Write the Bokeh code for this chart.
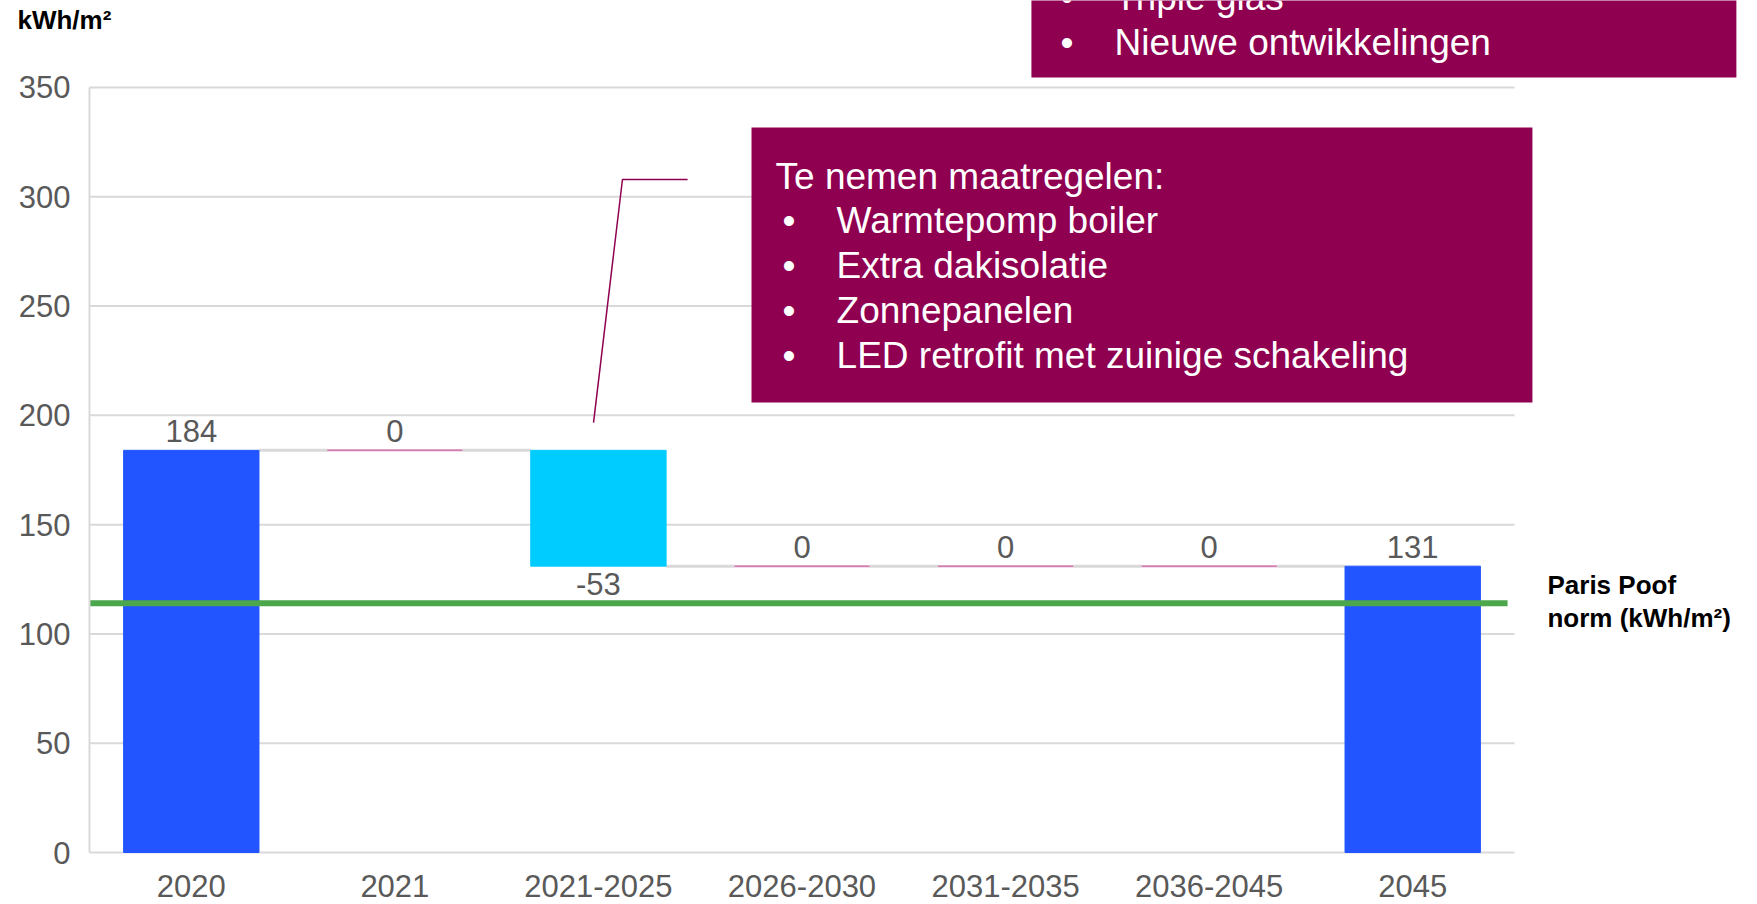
from bokeh.plotting import figure
from bokeh.models import Range1d, FixedTicker, Label
from bokeh.core.properties import value
from bokeh.embed import file_html
from bokeh.resources import INLINE

# ---------------- data ----------------
categories = ["2020", "2021", "2021-2025", "2026-2030", "2031-2035", "2036-2045", "2045"]
step_values = [184, 0, -53, 0, 0, 0, None]          # None -> computed total
is_total = [True, False, False, False, False, False, True]
norm_value = 114
y_ticks = [0, 50, 100, 150, 200, 250, 300, 350]
unit_label = "kWh/m²"
norm_label = ["Paris Poof", "norm (kWh/m²)"]
measures_title = "Te nemen maatregelen:"
measures = ["Warmtepomp boiler", "Extra dakisolatie", "Zonnepanelen",
            "LED retrofit met zuinige schakeling"]
other_measures = ["Triple glas", "Nieuwe ontwikkelingen"]

# ---------------- styling / layout ----------------
FONT = "Liberation Sans"
GRAY_TXT = "#595959"
GRID = "#d9d9d9"
TOTAL_C = "#2255FF"
NEG_C = "#00CCFF"
ZERO_C = "#D07FAE"
PLUM = "#8F0050"
GREEN = "#4CA64C"
BAR_W = 0.665

n = len(categories)
xs = list(range(n))

# waterfall computation
bottoms, tops, shown, levels = [], [], [], []
running = 0
for v, tot in zip(step_values, is_total):
    if tot:
        val = v if v is not None else running
        running = val
        bottoms.append(0); tops.append(val); shown.append(val)
    else:
        start = running
        running = start + v
        bottoms.append(min(start, running)); tops.append(max(start, running)); shown.append(v)
    levels.append(running)

# frame spans the whole canvas; axes are pinned at fixed locations
p = figure(width=1757, height=904,
           x_range=Range1d(-0.9372, 7.6937),
           y_range=Range1d(-23.79, 389.8),
           output_backend="svg", toolbar_location=None, min_border=0)
p.outline_line_color = None
p.background_fill_color = "white"
p.border_fill_color = "white"

x_lo, x_hi = -0.5, n - 0.5
p.xgrid.grid_line_color = None
p.ygrid.grid_line_color = None

p.yaxis.ticker = FixedTicker(ticks=y_ticks)
p.yaxis.fixed_location = x_lo
p.yaxis.bounds = (y_ticks[0], y_ticks[-1])
p.xaxis.ticker = FixedTicker(ticks=xs)
p.xaxis.major_label_overrides = {i: c for i, c in zip(xs, categories)}
p.xaxis.fixed_location = 0
p.xaxis.bounds = (x_lo, x_hi)
for ax in (p.xaxis[0], p.yaxis[0]):
    ax.axis_line_color = GRID
    ax.axis_line_width = 2
    ax.major_tick_line_color = None
    ax.minor_tick_line_color = None
    ax.major_tick_out = 0
    ax.major_tick_in = 0
    ax.minor_tick_out = 0
    ax.major_label_text_font = FONT
    ax.major_label_text_font_size = "31px"
    ax.major_label_text_color = GRAY_TXT
p.xaxis.axis_line_color = None
p.yaxis.major_label_standoff = 19
p.xaxis.major_label_standoff = 22

# horizontal gridlines limited to the plot area
p.segment(x0=[x_lo] * len(y_ticks), y0=y_ticks, x1=[x_hi] * len(y_ticks), y1=y_ticks,
          line_color=GRID, line_width=2)

# connectors between consecutive categories
con_x0 = [i + BAR_W / 2 for i in range(n - 1)]
con_x1 = [i + 1 - BAR_W / 2 for i in range(n - 1)]
con_y = [levels[i] for i in range(n - 1)]
p.segment(x0=con_x0, y0=con_y, x1=con_x1, y1=con_y, line_color=GRID, line_width=3)

# bars (non-zero)
bar_idx = [i for i in xs if tops[i] != bottoms[i]]
p.vbar(x=bar_idx, bottom=[bottoms[i] for i in bar_idx], top=[tops[i] for i in bar_idx],
       width=BAR_W, color=[TOTAL_C if is_total[i] else NEG_C for i in bar_idx])

# zero-change markers
zero_idx = [i for i in xs if tops[i] == bottoms[i]]
p.segment(x0=[i - BAR_W / 2 for i in zero_idx], y0=[levels[i] for i in zero_idx],
          x1=[i + BAR_W / 2 for i in zero_idx], y1=[levels[i] for i in zero_idx],
          line_color=ZERO_C, line_width=2)

# norm line
p.segment(x0=[x_lo], y0=[norm_value], x1=[6.466], y1=[norm_value],
          line_color=GREEN, line_width=6)

# data labels
pos_i = [i for i in xs if shown[i] >= 0]
neg_i = [i for i in xs if shown[i] < 0]
p.text(x=pos_i, y=[tops[i] for i in pos_i],
       text=[str(shown[i]) for i in pos_i], text_align="center", text_baseline="middle",
       y_offset=-19, text_font=value(FONT), text_font_size="31px", text_color=GRAY_TXT)
p.text(x=neg_i, y=[bottoms[i] for i in neg_i],
       text=[str(shown[i]) for i in neg_i], text_align="center", text_baseline="middle",
       y_offset=18, text_font=value(FONT), text_font_size="31px", text_color=GRAY_TXT)

# callout line
p.line(x=[1.976, 2.118, 2.438], y=[196.7, 307.9, 307.9], line_color=PLUM, line_width=1.5)

# annotation boxes
p.quad(left=[2.752], right=[6.588], top=[331.7], bottom=[205.9],
       fill_color=PLUM, line_color=None)
p.quad(left=[4.127], right=[7.590], top=[400], bottom=[354.6],
       fill_color=PLUM, line_color=None)

def lab(x, y, t, size="37px", color="white", style="normal", align="left"):
    p.add_layout(Label(x=x, y=y, text=t, text_font=FONT, text_font_size=size,
                       text_color=color, text_font_style=style, text_align=align,
                       text_baseline="middle"))

# box 1 text
lab(2.870, 309.3, measures_title)
for k, m in enumerate(measures):
    yy = 289.2 - k * 20.6
    lab(2.904, yy, "•")
    lab(3.170, yy, m)

# box 2 text
for k, m in enumerate(other_measures):
    yy = 391.2 - k * 20.6
    lab(4.270, yy, "•")
    lab(4.535, yy, m)

# unit label and norm label
lab(-0.854, 381.1, unit_label, size="26px", color="black", style="bold")
lab(6.662, 122.2, norm_label[0], size="26px", color="black", style="bold")
lab(6.662, 107.1, norm_label[1], size="26px", color="black", style="bold")

open("out.html", "w").write(file_html(p, INLINE))
